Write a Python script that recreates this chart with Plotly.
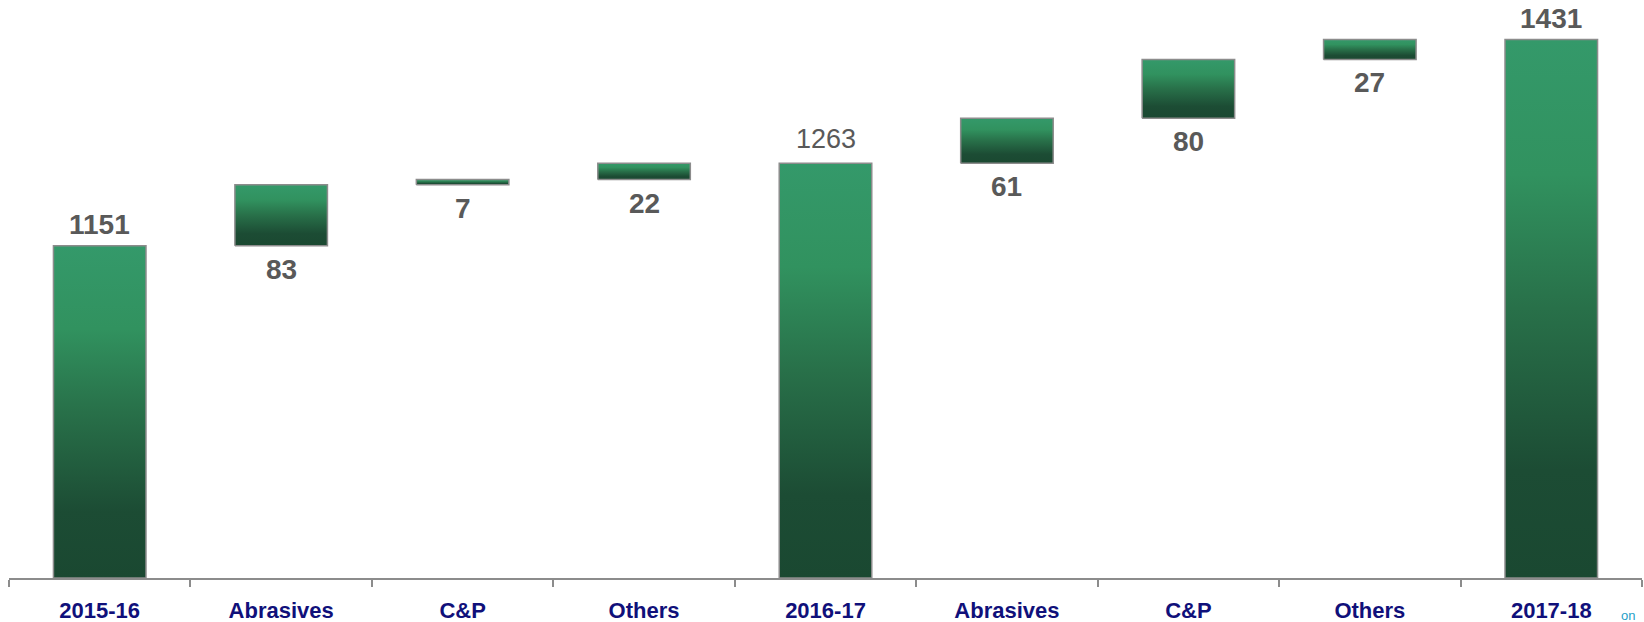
import plotly.graph_objects as go

# ---- data ----
categories = ["2015-16", "Abrasives", "C&P", "Others", "2016-17",
              "Abrasives", "C&P", "Others", "2017-18"]
values = [1151, 83, 7, 22, 1263, 61, 80, 27, 1431]
kinds = ["total", "delta", "delta", "delta", "total",
         "delta", "delta", "delta", "total"]
bold_labels = [True, True, True, True, False, True, True, True, True]

# ---- style ----
Y_MIN, Y_MAX = 700, 1484.7
BAR_W = 0.51
FONT = "Liberation Sans, Arial, sans-serif"
LABEL_COLOR = "#595959"
AXIS_COLOR = "#8c8c8c"
GRAD = [[0.0, "#1a4831"], [0.2, "#1c4c34"], [0.5, "#287049"],
        [0.75, "#31925f"], [1.0, "#34996a"]]

fig = go.Figure()
annotations = []
running = 0
for i, (v, k) in enumerate(zip(values, kinds)):
    if k == "total":
        base, top = Y_MIN, v
        running = v
    else:
        base, top = running, running + v
        running = top
    x0, x1 = i - BAR_W / 2, i + BAR_W / 2
    fig.add_trace(go.Scatter(
        x=[x0, x1, x1, x0, x0], y=[base, base, top, top, base],
        mode="lines", fill="toself",
        fillgradient=dict(type="vertical", colorscale=GRAD),
        line=dict(color=AXIS_COLOR, width=1.5),
        hoverinfo="skip", showlegend=False))
    txt = f"<b>{v}</b>" if bold_labels[i] else str(v)
    size = 28 if bold_labels[i] else 27
    if k == "total":
        annotations.append(dict(x=i, y=top, xref="x", yref="y", text=txt,
                                showarrow=False, yanchor="bottom",
                                yshift=4 if bold_labels[i] else 7,
                                font=dict(family=FONT, size=size, color=LABEL_COLOR)))
    else:
        annotations.append(dict(x=i, y=base, xref="x", yref="y", text=txt,
                                showarrow=False, yanchor="top", yshift=-6,
                                font=dict(family=FONT, size=size, color=LABEL_COLOR)))

annotations.append(dict(x=0.986, y=-0.048, xref="paper", yref="paper", text="on",
                        showarrow=False, xanchor="left", yanchor="top",
                        font=dict(family=FONT, size=13, color="#1fa0c8")))

fig.update_layout(
    width=1644, height=622, autosize=False,
    margin=dict(l=9, r=2, t=0, b=44),
    plot_bgcolor="white", paper_bgcolor="white",
    annotations=annotations,
    xaxis=dict(range=[-0.5, len(categories) - 0.5],
               tickvals=list(range(len(categories))), ticktext=categories,
               ticks="", showgrid=False, zeroline=False,
               showline=True, linecolor=AXIS_COLOR, linewidth=1.5,
               tickfont=dict(family=FONT, size=22, color="#10107a", weight="bold"),
               ticklabelstandoff=12,
               minor=dict(tickvals=[i - 0.5 for i in range(len(categories) + 1)],
                          ticks="outside", ticklen=7, tickcolor=AXIS_COLOR,
                          tickwidth=1.5, showgrid=False)),
    yaxis=dict(range=[Y_MIN, Y_MAX], visible=False, showgrid=False, zeroline=False),
)

fig.write_html("out.html")
